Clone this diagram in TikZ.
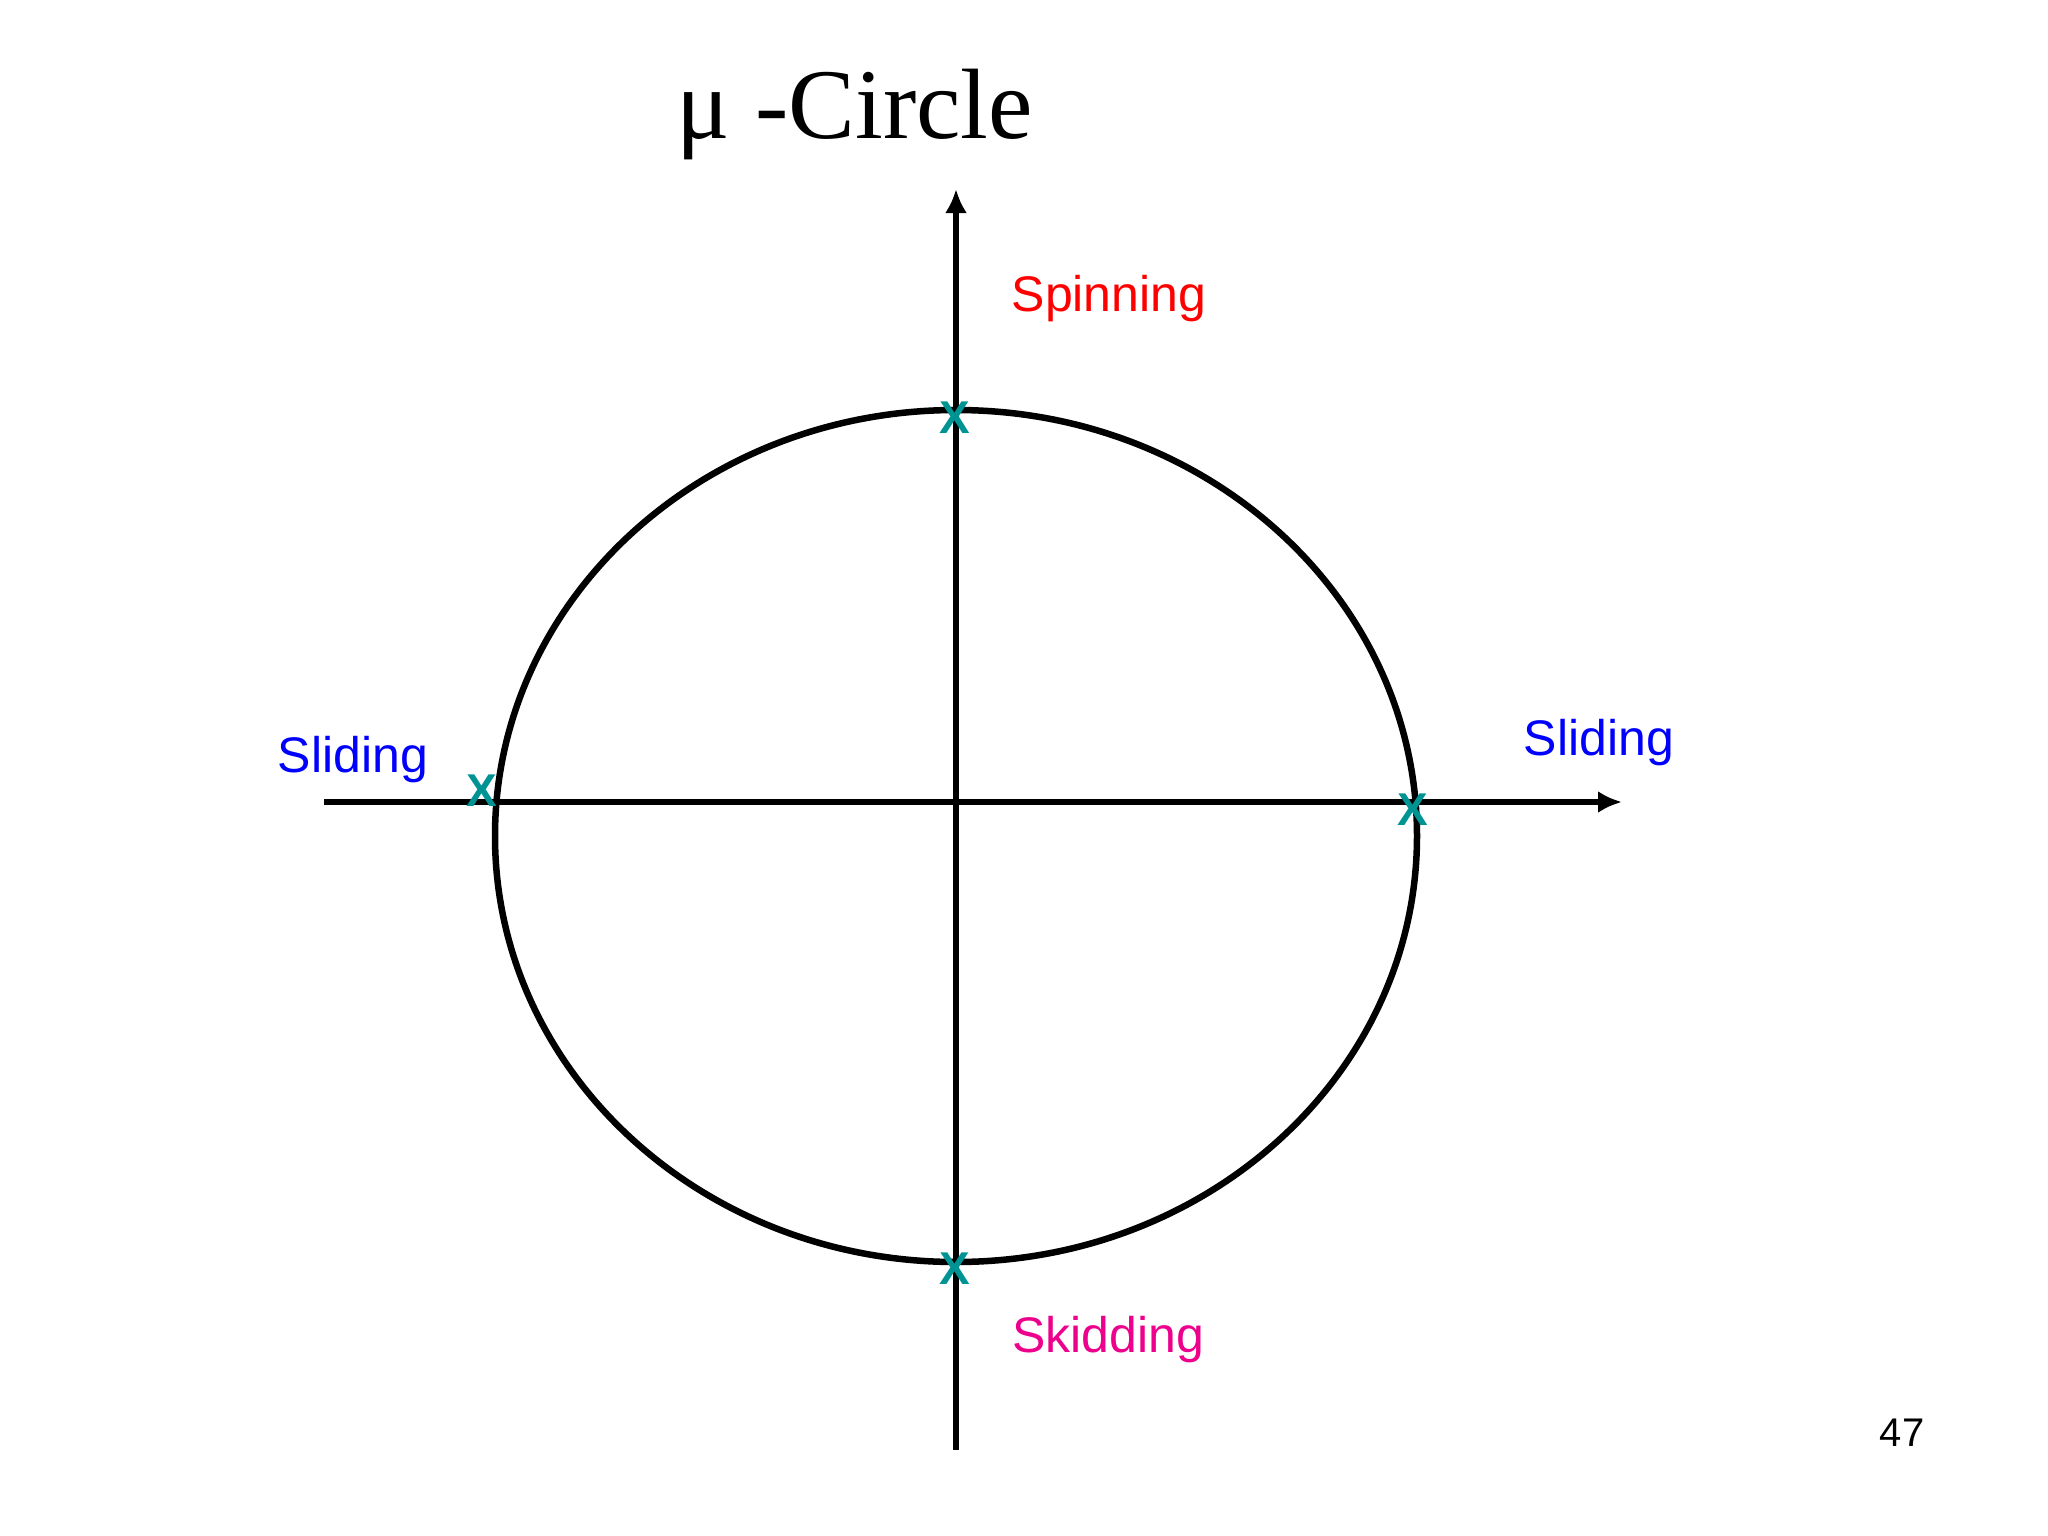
\documentclass[tikz,border=0pt]{standalone}
\usepackage{fontspec}
\setmainfont{Liberation Serif}
\setsansfont{Liberation Sans}
\begin{document}
\begin{tikzpicture}[x=1pt,y=-1pt,
  lbl/.style={font=\sffamily\fontsize{50}{60}\selectfont},
  mk/.style={font=\sffamily\bfseries\fontsize{46}{50}\selectfont,text=teal!85!cyan,inner sep=0pt},
  ax/.style={line width=6.5pt,-{Latex[length=24pt,width=22pt]}}]
\usetikzlibrary{arrows.meta}
\useasboundingbox (0,0) rectangle (2048,1536);
\coordinate (o) at (956,836);
\draw[line width=6.5pt] (o) ellipse [x radius=461, y radius=426];
\coordinate (vb) at (956,1450); \coordinate (vt) at (956,189);
\coordinate (hl) at (324,802); \coordinate (hr) at (1622,802);
\draw[ax] (vb) -- (vt);
\draw[ax] (hl) -- (hr);
\node[font=\fontsize{100}{110}\selectfont] (title) at (855,115) {μ -Circle};
\node[lbl,text=red] (spin) at (1109,299) {Spinning};
\node[lbl,text=magenta] (skid) at (1108,1340) {Skidding};
\node[lbl,text=blue] (sl) at (353,760) {Sliding};
\node[lbl,text=blue] (sr) at (1599,743) {Sliding};
\node[font=\sffamily\fontsize{40}{44}\selectfont] (pg) at (1902,1433) {47};
\node[mk] (x1) at (955,418) {X};
\node[mk] (x2) at (955,1269) {X};
\node[mk] (x3) at (482,791) {X};
\node[mk] (x4) at (1413,810) {X};
\end{tikzpicture}
\end{document}
